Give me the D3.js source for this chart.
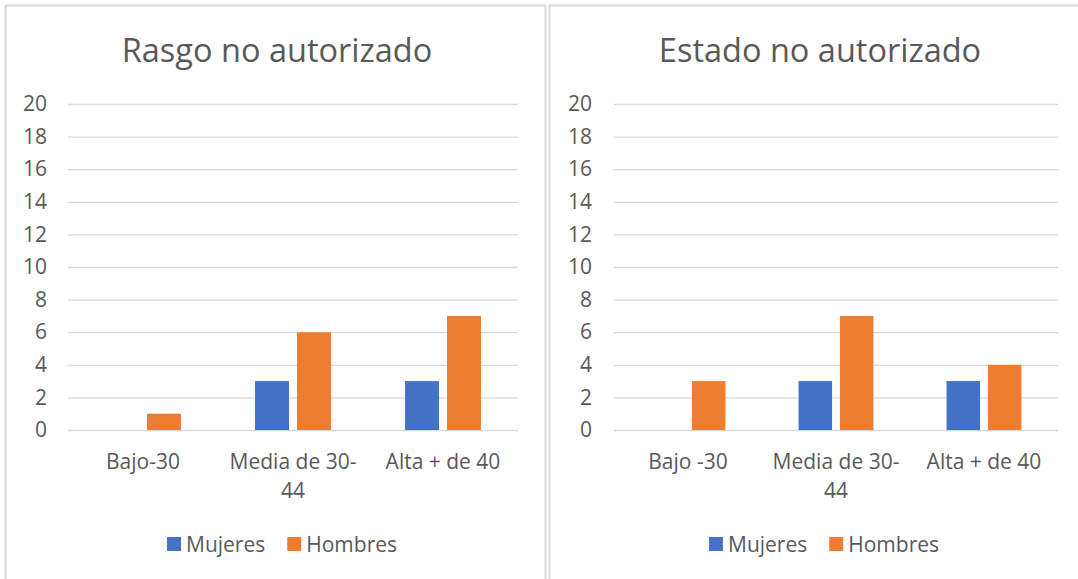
<!DOCTYPE html>
<html>
<head>
<meta charset="utf-8">
<script src="https://cdn.jsdelivr.net/npm/d3@7"></script>
<style>
  body { margin: 0; background: #fff; }
  svg { display: block; font-family: "Open Sans", sans-serif; }
</style>
</head>
<body>
<svg id="chart" width="1078" height="579"></svg>
<script>
var seriesNames = ["Mujeres", "Hombres"];
var seriesColors = ["#4472C4", "#ED7D31"];
var yTicks = [0, 2, 4, 6, 8, 10, 12, 14, 16, 18, 20];

var titleRasgo = "Rasgo no autorizado";
var catsRasgo = ["Bajo-30", "Media de 30-44", "Alta + de 40"];
var mujeresRasgo = [0, 3, 3];
var hombresRasgo = [1, 6, 7];

var titleEstado = "Estado no autorizado";
var catsEstado = ["Bajo -30", "Media de 30-44", "Alta + de 40"];
var mujeresEstado = [0, 3, 3];
var hombresEstado = [3, 7, 4];

var svg = d3.select("#chart");
var textColor = "#595959";
var gridColor = "#d9d9d9";
var fs = 21;

// panel frames
svg.append("rect").attr("x", 5.5).attr("y", 5.5).attr("width", 540).attr("height", 590)
  .attr("fill", "none").attr("stroke", gridColor).attr("stroke-width", 2);
svg.append("rect").attr("x", 549.5).attr("y", 5.5).attr("width", 540).attr("height", 590)
  .attr("fill", "none").attr("stroke", gridColor).attr("stroke-width", 2);

function splitLabel(label, width) {
  var parts = [];
  label.split(" ").forEach(function(w) {
    w.split(/(?<=[^\s-]-)/).forEach(function(p, k) { parts.push({ text: p, glue: k > 0 }); });
  });
  var probe = svg.append("text").attr("font-size", fs);
  var lines = [], cur = "";
  parts.forEach(function(p) {
    var trial = cur === "" ? p.text : cur + (p.glue ? "" : " ") + p.text;
    probe.text(trial);
    if (cur !== "" && probe.node().getComputedTextLength() > width) {
      lines.push(cur);
      cur = p.text;
    } else {
      cur = trial;
    }
  });
  if (cur) lines.push(cur);
  probe.remove();
  return lines;
}

function drawChart(cfg) {
  var g = svg.append("g");
  var x = d3.scaleBand().domain(cfg.cats).range([cfg.left, cfg.right]);
  var y = d3.scaleLinear().domain([0, 20]).range([430, 104]);
  var bw = x.bandwidth();
  var x1 = d3.scaleBand().domain(seriesNames).range([bw * 0.247, bw * 0.753]).paddingInner(0.19);

  g.append("text").attr("x", (cfg.left + cfg.right) / 2 - 16).attr("y", 62)
    .attr("text-anchor", "middle").attr("font-size", 32.5).attr("fill", textColor)
    .text(cfg.title);

  var yAxis = d3.axisLeft(y).tickValues(yTicks).tickSize(-(cfg.right - cfg.left)).tickPadding(0);
  var ya = g.append("g").attr("transform", "translate(" + cfg.left + ",0)").call(yAxis);
  ya.select(".domain").remove();
  ya.selectAll(".tick line").attr("stroke", gridColor).attr("stroke-width", 1.3);
  ya.selectAll(".tick text").attr("x", cfg.labelX).attr("fill", textColor)
    .attr("font-size", fs).attr("font-family", "Open Sans, sans-serif");

  var rows = cfg.cats.map(function(c, i) { return { cat: c, values: [cfg.muj[i], cfg.hom[i]] }; });
  var grp = g.selectAll("g.cat").data(rows).enter().append("g")
    .attr("transform", function(d) { return "translate(" + x(d.cat) + ",0)"; });
  grp.selectAll("rect").data(function(d) {
      return d.values.map(function(v, j) { return { name: seriesNames[j], value: v, color: seriesColors[j] }; });
    })
    .enter().filter(function(d) { return d.value > 0; }).append("rect")
    .attr("x", function(d) { return x1(d.name); })
    .attr("width", x1.bandwidth())
    .attr("y", function(d) { return y(d.value); })
    .attr("height", function(d) { return y(0) - y(d.value); })
    .attr("fill", function(d) { return d.color; });

  cfg.cats.forEach(function(c) {
    var lines = splitLabel(c, bw - 6);
    var t = g.append("text").attr("text-anchor", "middle").attr("font-size", fs).attr("fill", textColor)
      .attr("x", x(c) + bw / 2).attr("y", 469);
    lines.forEach(function(l, k) {
      t.append("tspan").attr("x", x(c) + bw / 2).attr("dy", k === 0 ? 0 : 29).text(l);
    });
  });

  var lg = g.append("g").attr("transform", "translate(" + cfg.legendX + ",537)");
  var lx = 0;
  seriesNames.forEach(function(n, i) {
    lg.append("rect").attr("x", lx).attr("y", 0).attr("width", 14).attr("height", 14).attr("fill", seriesColors[i]);
    var t = lg.append("text").attr("x", lx + 19).attr("y", 14.5).attr("font-size", fs).attr("fill", textColor).text(n);
    lx += 19 + t.node().getComputedTextLength() + 22;
  });
}

drawChart({ title: titleRasgo, cats: catsRasgo, muj: mujeresRasgo, hom: hombresRasgo, left: 68, right: 518, legendX: 167, labelX: -21 });
drawChart({ title: titleEstado, cats: catsEstado, muj: mujeresEstado, hom: hombresEstado, left: 614, right: 1058, legendX: 709, labelX: -22 });
</script>
</body>
</html>
